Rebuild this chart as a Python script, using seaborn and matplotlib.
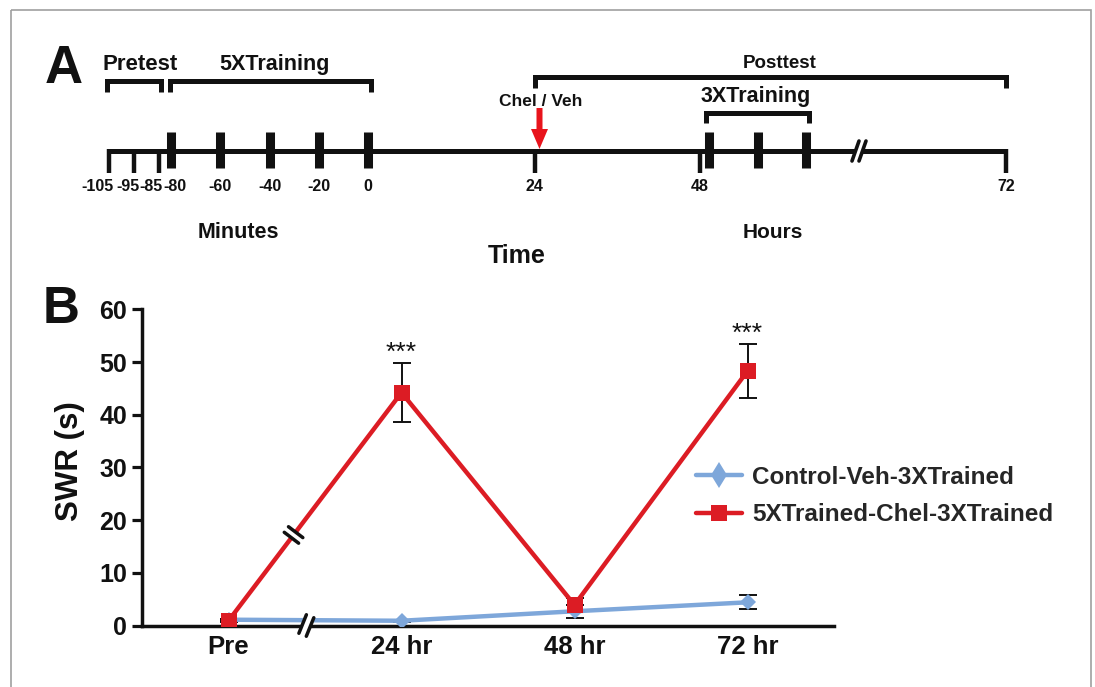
import numpy as np
import pandas as pd
import seaborn as sns
import matplotlib.pyplot as plt
from matplotlib.lines import Line2D
from matplotlib.patches import Rectangle, Polygon, FancyArrow

sns.set_theme(style='white')
plt.rcParams['font.family'] = ['Liberation Sans', 'DejaVu Sans']
plt.rcParams['font.weight'] = 'bold'
plt.rcParams['axes.labelweight'] = 'bold'

# ---- panel B data ----
timepoints = ['Pre', '24 hr', '48 hr', '72 hr']
groups = ['Control-Veh-3XTrained', '5XTrained-Chel-3XTrained']
ctrl_mean = [1.1, 0.9, 2.7, 4.4]
ctrl_err = [0.2, 0.2, 1.2, 1.3]
chel_mean = [0.9, 44.2, 3.9, 48.3]
chel_err = [0.3, 5.6, 1.3, 5.1]
sig_labels = ['', '***', '', '***']

# ---- panel A timeline ----
minute_ticks = [-105, -95, -85, -80, -60, -40, -20, 0]
pretest_ticks = [-105, -95, -85]
training_5x = [-80, -60, -40, -20, 0]
hour_ticks = [24, 48, 72]

blue = '#7ea7da'
red = '#dc1c24'
ink = '#111111'

fig = plt.figure(figsize=(10.95, 6.87), dpi=100)

# pixel-space axes for the schematic (panel A) and frame
axA = fig.add_axes([0, 0, 1, 1])
axA.set_xlim(0, 1095)
axA.set_ylim(687, 0)
axA.axis('off')
axA.add_patch(Rectangle((11, 10), 1080, 700, fill=False, ec='#a0a0a0', lw=1.2))


def xmin(m):
    return 368 + m * 2.462


hour_x = {24: 534.5, 48: 700, 72: 1006}
bars_3x = [708.5, 757.5, 806]
label_shift = {-105: -12, -95: -6, -85: -8, -80: 4}
yl = 151

axA.plot([xmin(-105), hour_x[72]], [yl, yl], color=ink, lw=3.6, solid_capstyle='butt')
for m in pretest_ticks:
    axA.plot([xmin(m), xmin(m)], [yl - 2, 173], color=ink, lw=3.2, solid_capstyle='butt')
for h in hour_ticks:
    axA.plot([hour_x[h], hour_x[h]], [yl - 2, 173], color=ink, lw=3.2, solid_capstyle='butt')
for m in training_5x:
    axA.plot([xmin(m), xmin(m)], [132, 168], color=ink, lw=6.5, solid_capstyle='butt')
for x in bars_3x:
    axA.plot([x, x], [132, 168], color=ink, lw=6.5, solid_capstyle='butt')

for m in minute_ticks:
    axA.text(xmin(m) + label_shift.get(m, 0), 191, str(m), ha='center', va='baseline',
             fontsize=11.5, color=ink)
for h in hour_ticks:
    axA.text(hour_x[h], 191, str(h), ha='center', va='baseline', fontsize=11.5, color=ink)

# break on the timeline
axA.add_patch(Polygon([(852, 162), (859, 140), (866, 140), (859, 162)], color='white', zorder=5))
for dx in (0, 7):
    axA.plot([852 + dx, 859 + dx], [161, 141], color=ink, lw=2.6, zorder=6)


def bracket(x0, x1, ytop, ydrop):
    axA.plot([x0, x0, x1, x1], [ydrop, ytop, ytop, ydrop], color=ink, lw=3.6,
             solid_joinstyle='miter', solid_capstyle='butt')


bracket(107, 161, 81, 92)
bracket(169.5, 371, 81, 92)
bracket(535, 1006, 76.5, 88)
bracket(705.5, 808.5, 112.5, 123)

axA.text(45, 83, 'A', fontsize=38, ha='left', va='baseline', color=ink)
axA.text(140, 70, 'Pretest', fontsize=16, ha='center', va='baseline', color=ink)
axA.text(274, 70, '5XTraining', fontsize=15.5, ha='center', va='baseline', color=ink)
axA.text(780, 68, 'Posttest', fontsize=13.5, ha='center', va='baseline', color=ink)
axA.text(756, 102, '3XTraining', fontsize=15.5, ha='center', va='baseline', color=ink)
axA.text(541, 106, 'Chel / Veh', fontsize=12.5, ha='center', va='baseline', color=ink)
axA.add_patch(FancyArrow(539.5, 108, 0, 41, width=6, head_width=17, head_length=20,
                         length_includes_head=True, color='#e8141c', lw=0))
axA.text(238, 238, 'Minutes', fontsize=15.5, ha='center', va='baseline', color=ink)
axA.text(773, 238, 'Hours', fontsize=15, ha='center', va='baseline', color=ink)
axA.text(517, 263, 'Time', fontsize=18, ha='center', va='baseline', color=ink)
axA.text(43, 323, 'B', fontsize=37, ha='left', va='baseline', color=ink)

# ---- panel B chart ----
axB = fig.add_axes([142 / 1095, (687 - 625.5) / 687, (834 - 142) / 1095, (625.5 - 309.3) / 687])
axB.set_facecolor('none')
pos = np.arange(len(timepoints))
df = pd.DataFrame({
    'pos': np.tile(pos, 2),
    'swr': ctrl_mean + chel_mean,
    'group': [groups[0]] * len(pos) + [groups[1]] * len(pos),
})

axB.errorbar(pos, ctrl_mean, yerr=ctrl_err, fmt='none', ecolor=ink, elinewidth=1.4,
             capsize=6.5, capthick=1.4, zorder=2)
axB.errorbar(pos, chel_mean, yerr=chel_err, fmt='none', ecolor=ink, elinewidth=1.4,
             capsize=6.5, capthick=1.4, zorder=2)
sns.lineplot(data=df, x='pos', y='swr', hue='group', style='group', hue_order=groups,
             style_order=groups, palette=[blue, red], markers={groups[0]: 'D', groups[1]: 's'},
             dashes=False, lw=3.2, markersize=8, markeredgewidth=0, legend=False, ax=axB,
             zorder=3)
for ln in axB.lines:
    if ln.get_marker() == 's':
        ln.set_markersize(11)
        ln.set_zorder(4)

for i, s in enumerate(sig_labels):
    if s:
        axB.annotate(s, (pos[i], chel_mean[i] + chel_err[i]), xytext=(0, -1),
                     textcoords='offset points', ha='center', va='bottom', fontsize=19,
                     fontweight='normal', color=ink)

axB.set_xlim(-0.5, 3.5)
axB.set_ylim(0, 60)
axB.set_xticks(pos)
axB.set_xticklabels(timepoints)
axB.set_yticks(np.arange(0, 61, 10))
axB.tick_params(axis='x', length=0, pad=7, labelsize=18.5, colors=ink)
axB.tick_params(axis='y', length=7.2, width=2.3, pad=3.6, labelsize=18, colors=ink, left=True)
for side in ('top', 'right'):
    axB.spines[side].set_visible(False)
for side in ('left', 'bottom'):
    axB.spines[side].set_linewidth(2.5)
    axB.spines[side].set_color(ink)
axB.set_xlabel('')
axB.set_ylabel('SWR (s)', fontsize=22.5, color=ink)
axB.yaxis.set_label_coords(-0.083, 0.52)

# break marks (drawn in pixel space on top)
axO = fig.add_axes([0, 0, 1, 1], zorder=10)
axO.set_xlim(0, 1095)
axO.set_ylim(687, 0)
axO.axis('off')


def to_px(x, y):
    dx, dy = axB.transData.transform((x, y))
    return dx, 687 - dy


def break_mark(cx, cy, ang, half=9, gap=3.5):
    # ang: direction of the strokes (radians, pixel space)
    u = np.array([np.cos(ang), np.sin(ang)])
    n = np.array([np.cos(ang - np.pi / 2), np.sin(ang - np.pi / 2)])
    c = np.array([cx, cy])
    corners = [c - n * gap - u * half, c - n * gap + u * half,
               c + n * gap + u * half, c + n * gap - u * half]
    axO.add_patch(Polygon(corners, color='white', zorder=1))
    for s in (-1, 1):
        a = c + s * n * gap - u * half
        b = c + s * n * gap + u * half
        axO.plot([a[0], b[0]], [a[1], b[1]], color=ink, lw=2.5, zorder=2)


bx, by = to_px(0.45, 0)
break_mark(bx, by, np.deg2rad(-68), half=10, gap=4)

p0 = np.array(to_px(pos[0], chel_mean[0]))
p1 = np.array(to_px(pos[1], chel_mean[1]))
pm = p0 + 0.376 * (p1 - p0)
seg_ang = np.arctan2(p1[1] - p0[1], p1[0] - p0[0])
break_mark(pm[0], pm[1], seg_ang + np.pi / 2, half=9, gap=3.5)

handles = [Line2D([], [], color=blue, lw=3.2, marker='d', ms=13, mew=0),
           Line2D([], [], color=red, lw=3.2, marker='s', ms=11, mew=0)]
fig.legend(handles, groups, loc='center left', bbox_to_anchor=(696 / 1095, (687 - 496) / 687),
           frameon=False, prop={'weight': 'bold', 'size': 17.5}, handlelength=1.9,
           handletextpad=0.4, labelspacing=0.6, borderpad=0, borderaxespad=0)

fig.savefig('out.png', dpi=100)
